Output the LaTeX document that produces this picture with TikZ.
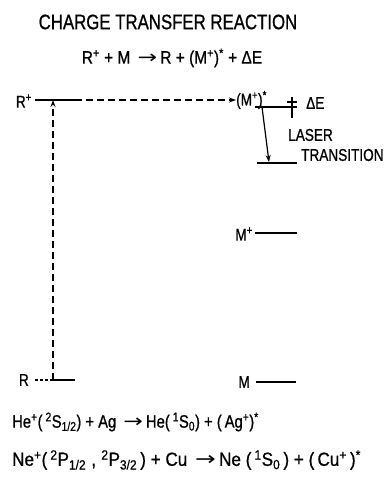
\documentclass[tikz,border=0pt]{standalone}
\usepackage{fontspec}
\setmainfont[FakeStretch=0.8,FakeBold=0.8]{Liberation Sans}
\newfontfamily\hB[FakeStretch=0.86,FakeBold=0.8]{Liberation Sans}
\newfontfamily\hC[FakeStretch=0.82,FakeBold=0.8]{Liberation Sans}
\newfontfamily\hD[FakeStretch=0.9,FakeBold=0.8]{Liberation Sans}
\newfontfamily\arr[FakeStretch=1.3]{DejaVu Sans}
\newcommand{\rarr}{{\arr\,→\,}}
\usetikzlibrary{arrows.meta}
\begin{document}
\begin{tikzpicture}[x=1pt,y=-1pt,
  lvl/.style={line width=1.5pt},
  conn/.style={line width=1.2pt},
  dconn/.style={line width=1.2pt,dash pattern=on 7pt off 4pt},
  tip/.style={-{Stealth[length=7pt,width=5pt]}},
  lab/.style={inner sep=0pt,font=\fontsize{17}{19}\selectfont},
  big/.style={inner sep=0pt,font=\fontsize{21}{23}\selectfont},
  eqn/.style={inner sep=0pt,font=\hB\fontsize{18}{20}\selectfont},
  reacA/.style={inner sep=0pt,font=\hC\fontsize{18}{20}\selectfont},
  reacB/.style={inner sep=0pt,font=\hD\fontsize{19}{21}\selectfont}]
\useasboundingbox[fill=white] (0,0) rectangle (390,482);
% headings
\node[big] (title) at (168,22) {CHARGE TRANSFER REACTION};
\node[eqn] (eq) at (172,58) {R\textsuperscript{+} + M \rarr R + (M\textsuperscript{+})\textsuperscript{*} + ΔE};
% R+ level
\node[lab,anchor=east] (Rp) at (32,101) {R\textsuperscript{+}};
\coordinate (Rpa) at (35,100);
\coordinate (Rpb) at (75,100);
\coordinate (Rpm) at (53,100);
\draw[lvl] (Rpa) -- (Rpb);
% (M+)* level
\node[lab,anchor=west] (Ms) at (236,100) {(M\textsuperscript{+})\textsuperscript{*}};
\coordinate (Msa) at (255,107);
\coordinate (Msb) at (297,107);
\draw[lvl] (Msa) -- (Msb);
\draw[dconn,tip] (Rpb) -- (Ms.west);
% Delta E marker
\coordinate (dEt) at (292,97);
\coordinate (dEb) at (292,118);
\coordinate (dEl) at (287,102);
\coordinate (dEr) at (297,102);
\draw[conn] (dEt) -- (dEb);
\draw[conn] (dEl) -- (dEr);
\node[lab,anchor=west] (dE) at (306,103) {ΔE};
% laser transition
\coordinate (Lu) at (262,107);
\coordinate (Ld) at (269,162);
\coordinate (Ll1) at (257,163);
\coordinate (Ll2) at (297,163);
\draw[lvl] (Ll1) -- (Ll2);
\draw[conn,tip] (Lu) -- (Ld);
\node[lab,anchor=west] (laser) at (288,135) {LASER};
\node[lab,anchor=west] (trans) at (301,155) {TRANSITION};
% M+ level
\node[lab,anchor=east] (Mp) at (253,234) {M\textsuperscript{+}};
\coordinate (Mpa) at (255,233);
\coordinate (Mpb) at (297,233);
\draw[lvl] (Mpa) -- (Mpb);
% M level
\node[lab,anchor=east] (M) at (250,382) {M};
\coordinate (Ma) at (256,382);
\coordinate (Mb) at (296,382);
\draw[lvl] (Ma) -- (Mb);
% R level
\node[lab,anchor=east] (R) at (29,380) {R};
\coordinate (Ra) at (35,380);
\coordinate (Rm) at (53,380);
\coordinate (Rb) at (75,380);
\draw[conn,dash pattern=on 3pt off 2pt] (Ra) -- (Rm);
\draw[lvl] (Rm) -- (Rb);
\draw[dconn,tip] (Rm) -- (Rpm);
% reactions
\node[reacA,anchor=west] (r1) at (12,422) {He\textsuperscript{+}(\,\textsuperscript{2}S\textsubscript{1/2}) + Ag \rarr He(\,\textsuperscript{1}S\textsubscript{0}) + (\,Ag\textsuperscript{+})\textsuperscript{*}};
\node[reacB,anchor=west] (r2) at (12,460) {Ne\textsuperscript{+}(\,\textsuperscript{2}P\textsubscript{1/2}\;,\;\textsuperscript{2}P\textsubscript{3/2}\,) + Cu \rarr Ne (\,\textsuperscript{1}S\textsubscript{0}\,) + (\,Cu\textsuperscript{+}\,)\textsuperscript{*}};
\end{tikzpicture}
\end{document}
